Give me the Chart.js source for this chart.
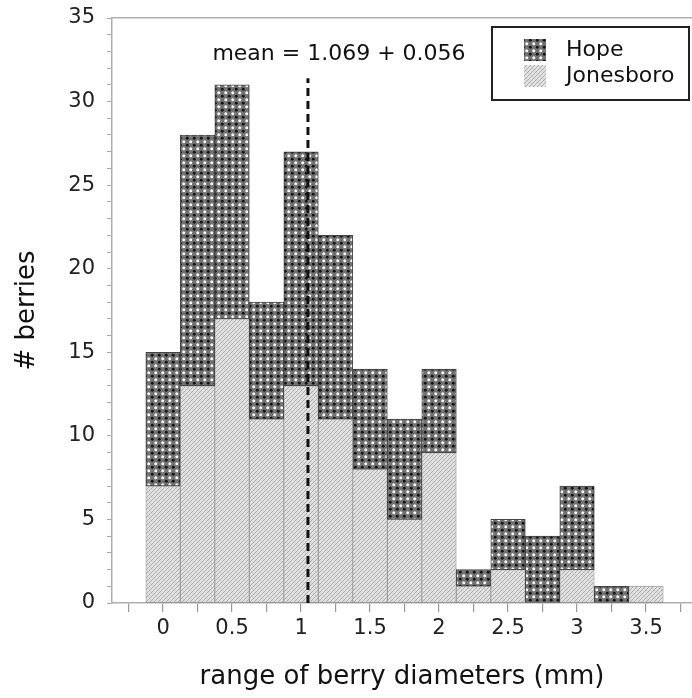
<!DOCTYPE html>
<html>
<head>
<meta charset="utf-8">
<script src="https://cdn.jsdelivr.net/npm/chart.js@4.4.1/dist/chart.umd.min.js"></script>
<style>
  html, body { margin: 0; padding: 0; background: #fff; }
  #wrap { width: 692px; height: 698px; }
</style>
</head>
<body>
<div id="wrap"><canvas id="chart" width="692" height="698"></canvas></div>
<script>
// ── Data ─────────────────────────────────────────────────
var BIN_CENTERS = [0, 0.25, 0.5, 0.75, 1, 1.25, 1.5, 1.75, 2, 2.25, 2.5, 2.75, 3, 3.25, 3.5];
var JONESBORO   = [7, 13, 17, 11, 13, 11, 8, 5, 9, 1, 2, 0, 2, 0, 1];
var HOPE        = [8, 15, 14, 7, 14, 11, 6, 6, 5, 1, 3, 4, 5, 1, 0];
var X_TICKS     = [-0.25, 0, 0.25, 0.5, 0.75, 1, 1.25, 1.5, 1.75, 2, 2.25, 2.5, 2.75, 3, 3.25, 3.5, 3.75];
var X_LABELED   = [0, 0.5, 1, 1.5, 2, 2.5, 3, 3.5];
var Y_LABELED   = [0, 5, 10, 15, 20, 25, 30, 35];
var MEAN_X      = 1.05;
var MEAN_LINE_Y = [0, 31.4];
var MEAN_TEXT   = 'mean = 1.069 + 0.056';
var SERIES_NAMES = ['Hope', 'Jonesboro'];

var FONT = "'DejaVu Sans', 'Open Sans', sans-serif";

// ── Patterns ─────────────────────────────────────────────
function dotPattern() {
    var c = document.createElement('canvas');
    c.width = 7; c.height = 7;
    var g = c.getContext('2d');
    g.fillStyle = '#727272';
    g.fillRect(0, 0, 7, 7);
    g.fillStyle = '#f8f8f8';
    g.beginPath(); g.arc(1.75, 1.75, 1.5, 0, Math.PI * 2); g.fill();
    g.fillStyle = '#121212';
    g.beginPath(); g.arc(5.25, 5.25, 1.45, 0, Math.PI * 2); g.fill();
    return g.createPattern(c, 'repeat');
}

function hatchPattern() {
    var c = document.createElement('canvas');
    c.width = 8; c.height = 8;
    var g = c.getContext('2d');
    g.fillStyle = '#e2e2e2';
    g.fillRect(0, 0, 8, 8);
    g.strokeStyle = '#a6a6a6';
    g.lineWidth = 0.9;
    [-8, -4, 0, 4, 8].forEach(function (o) {
        g.beginPath(); g.moveTo(o, 8); g.lineTo(o + 8, 0); g.stroke();
    });
    g.strokeStyle = 'rgba(170,170,170,0.35)';
    g.lineWidth = 0.6;
    [-8, 0, 8].forEach(function (o) {
        g.beginPath(); g.moveTo(o, 0); g.lineTo(o + 8, 8); g.stroke();
    });
    return g.createPattern(c, 'repeat');
}

var HOPE_FILL = dotPattern();
var JONES_FILL = hatchPattern();

function toPoints(ys) {
    return BIN_CENTERS.map(function (x, i) { return { x: x, y: ys[i] }; });
}

// ── Legend box + mean label ──────────────────────────────
var overlay = {
    id: 'overlay',
    afterDraw: function (chart) {
        var ctx = chart.ctx;
        var xs = chart.scales.x, ys = chart.scales.y;
        ctx.save();
        // mean label
        ctx.fillStyle = '#111';
        ctx.font = '22px ' + FONT;
        ctx.textAlign = 'center';
        ctx.textBaseline = 'middle';
        ctx.fillText(MEAN_TEXT, xs.getPixelForValue(MEAN_X + 0.225), ys.getPixelForValue(32.8));

        // legend
        var bx = 492, by = 27, bw = 197, bh = 73;
        ctx.fillStyle = '#fff';
        ctx.fillRect(bx, by, bw, bh);
        ctx.strokeStyle = '#222';
        ctx.lineWidth = 2;
        ctx.strokeRect(bx, by, bw, bh);
        var fills = [HOPE_FILL, JONES_FILL];
        SERIES_NAMES.forEach(function (name, i) {
            var sy = 39 + i * 26;
            ctx.fillStyle = fills[i];
            ctx.fillRect(524, sy, 22, 22);
            ctx.fillStyle = '#111';
            ctx.textAlign = 'left';
            ctx.font = '22px ' + FONT;
            ctx.fillText(name, 566, sy + 11);
        });
        ctx.restore();
    }
};

// ── Chart ────────────────────────────────────────────────
new Chart(document.getElementById('chart'), {
    type: 'bar',
    data: {
        datasets: [
            {
                label: 'mean',
                type: 'line',
                data: [{ x: MEAN_X, y: MEAN_LINE_Y[0] }, { x: MEAN_X, y: MEAN_LINE_Y[1] }],
                borderColor: '#111',
                borderWidth: 3,
                borderDash: [8, 5],
                pointRadius: 0,
                stack: 'mean',
                order: 0
            },
            {
                label: SERIES_NAMES[1],
                data: toPoints(JONESBORO),
                backgroundColor: JONES_FILL,
                borderColor: 'rgba(80,80,80,0.45)',
                borderWidth: 1,
                borderSkipped: false,
                barPercentage: 1,
                categoryPercentage: 1,
                stack: 'bars',
                order: 1
            },
            {
                label: SERIES_NAMES[0],
                data: toPoints(HOPE),
                backgroundColor: HOPE_FILL,
                borderColor: '#444',
                borderWidth: 1,
                borderSkipped: false,
                barPercentage: 1,
                categoryPercentage: 1,
                stack: 'bars',
                order: 2
            }
        ]
    },
    options: {
        responsive: false,
        animation: false,
        layout: { padding: { top: 18, right: 0, left: 0, bottom: 0 } },
        plugins: {
            legend: { display: false },
            tooltip: { enabled: false }
        },
        scales: {
            x: {
                type: 'linear',
                min: -0.37,
                max: 3.833,
                offset: false,
                stacked: true,
                afterBuildTicks: function (s) {
                    s.ticks = X_TICKS.map(function (v) { return { value: v }; });
                },
                afterFit: function (s) { s.height = 95; s.paddingLeft = 0; s.paddingRight = 0; },
                border: { color: '#b0b0b0', width: 1.5 },
                grid: { offset: false, drawOnChartArea: false, drawTicks: true, tickLength: 9, color: '#9a9a9a', lineWidth: 1.2 },
                ticks: {
                    autoSkip: false,
                    maxRotation: 0,
                    padding: 4,
                    color: '#222',
                    font: { family: FONT, size: 21 },
                    callback: function (v) {
                        return X_LABELED.indexOf(v) >= 0 ? String(v) : '';
                    }
                },
                title: {
                    display: true,
                    text: 'range of berry diameters (mm)',
                    color: '#111',
                    font: { family: FONT, size: 26 },
                    padding: { top: 0, bottom: 5 }
                }
            },
            xTop: {
                type: 'linear',
                position: 'top',
                min: -0.37,
                max: 3.833,
                offset: false,
                ticks: { display: false },
                grid: { display: false, drawTicks: false },
                border: { color: '#b0b0b0', width: 1.5 },
                afterFit: function (s) { s.height = 0; }
            },
            y: {
                stacked: true,
                min: 0,
                max: 35,
                afterFit: function (s) { s.width = 112; s.paddingTop = 0; s.paddingBottom = 0; },
                border: { color: '#b0b0b0', width: 1.5 },
                grid: { drawOnChartArea: false, drawTicks: true, tickLength: 5, color: '#aaa' },
                ticks: {
                    stepSize: 1,
                    autoSkip: false,
                    padding: 12,
                    color: '#222',
                    font: { family: FONT, size: 21 },
                    callback: function (v) {
                        return Y_LABELED.indexOf(v) >= 0 ? String(v) : '';
                    }
                },
                title: {
                    display: true,
                    text: '# berries',
                    color: '#111',
                    font: { family: FONT, size: 26 },
                    padding: { top: 12, bottom: 0 }
                }
            }
        }
    },
    plugins: [overlay]
});
</script>
</body>
</html>
